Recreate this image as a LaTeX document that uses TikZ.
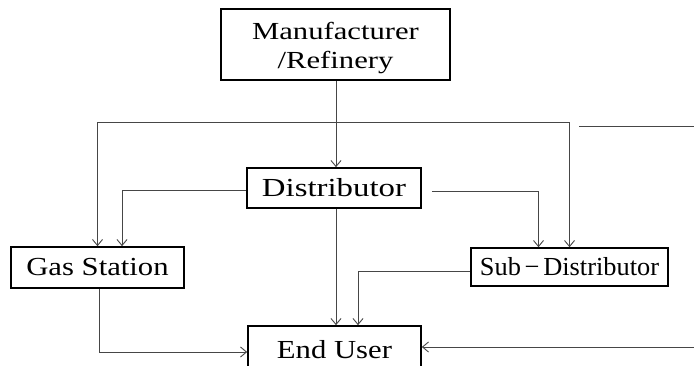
\documentclass[tikz,border=0pt]{standalone}
\usepackage{fontspec}
\usepackage{graphicx}
\setmainfont[FakeStretch=1.18]{Liberation Serif}
\usetikzlibrary{arrows.meta}
\definecolor{linegray}{RGB}{70,70,70}
\tikzset{
  box/.style={draw=black, line width=1.6pt, fill=white, inner sep=0pt, align=center, font=\fontsize{26}{28}\selectfont},
  conn/.style={draw=linegray, line width=0.9pt, -{Straight Barb[length=6pt,width=10pt,line width=0.9pt]}},
  plain/.style={draw=linegray, line width=0.9pt},
}
\begin{document}
\begin{tikzpicture}[x=1pt,y=-1pt]
\useasboundingbox (0,0) rectangle (694,366);
\node[box, minimum width=229pt, minimum height=71pt] (mfr) at (335.5,44.5) {};
\node[inner sep=0pt, align=center, font=\fontsize{24.5}{28.5}\selectfont] (mfrtext) at (335.5,48) {\scalebox{1.06}[1]{Manufacturer}\\\scalebox{1.06}[1]{/Refinery}};
\node[box, minimum width=174pt, minimum height=40pt] (dist) at (334,188) {\scalebox{1.07}[1]{Distributor}};
\node[box, minimum width=173pt, minimum height=41pt] (gas) at (97.5,267.5) {Gas Station};
\node[box, minimum width=197pt, minimum height=38pt] (sub) at (569.5,267) {\scalebox{0.86}[1]{Sub\,−\,Distributor}};
\node[box, minimum width=173pt, minimum height=48pt] (end) at (334.5,350) {End User};
\coordinate (j1) at (336,122);
\coordinate (isoA) at (579,126);
\coordinate (isoB) at (694,126);
\coordinate (rin) at (694,347);
% manufacturer to distributor
\draw[conn] (mfr.south -| j1) -- (dist.north -| j1);
% manufacturer branch to gas station and sub-distributor
\draw[conn] (j1) -| (gas.north);
\draw[conn] (j1) -| (sub.north);
% distributor to gas station
\draw[conn] ([yshift=-2pt]dist.west) -| ([xshift=24.5pt]gas.north);
% distributor to sub-distributor
\draw[conn] ([xshift=10pt,yshift=-3pt]dist.east) -| ([xshift=-31pt]sub.north);
% distributor to end user
\draw[conn] (dist.south -| j1) -- (end.north -| j1);
% sub-distributor to end user
\draw[conn] ([yshift=-4pt]sub.west) -| ([xshift=23.5pt]end.north);
% gas station to end user
\draw[conn] ([xshift=1.5pt]gas.south) |- ([yshift=-2pt]end.west);
% right input to end user
\draw[conn] (rin) -- (rin -| end.east);
% isolated line
\draw[plain] (isoA) -- (isoB);
\end{tikzpicture}
\end{document}
